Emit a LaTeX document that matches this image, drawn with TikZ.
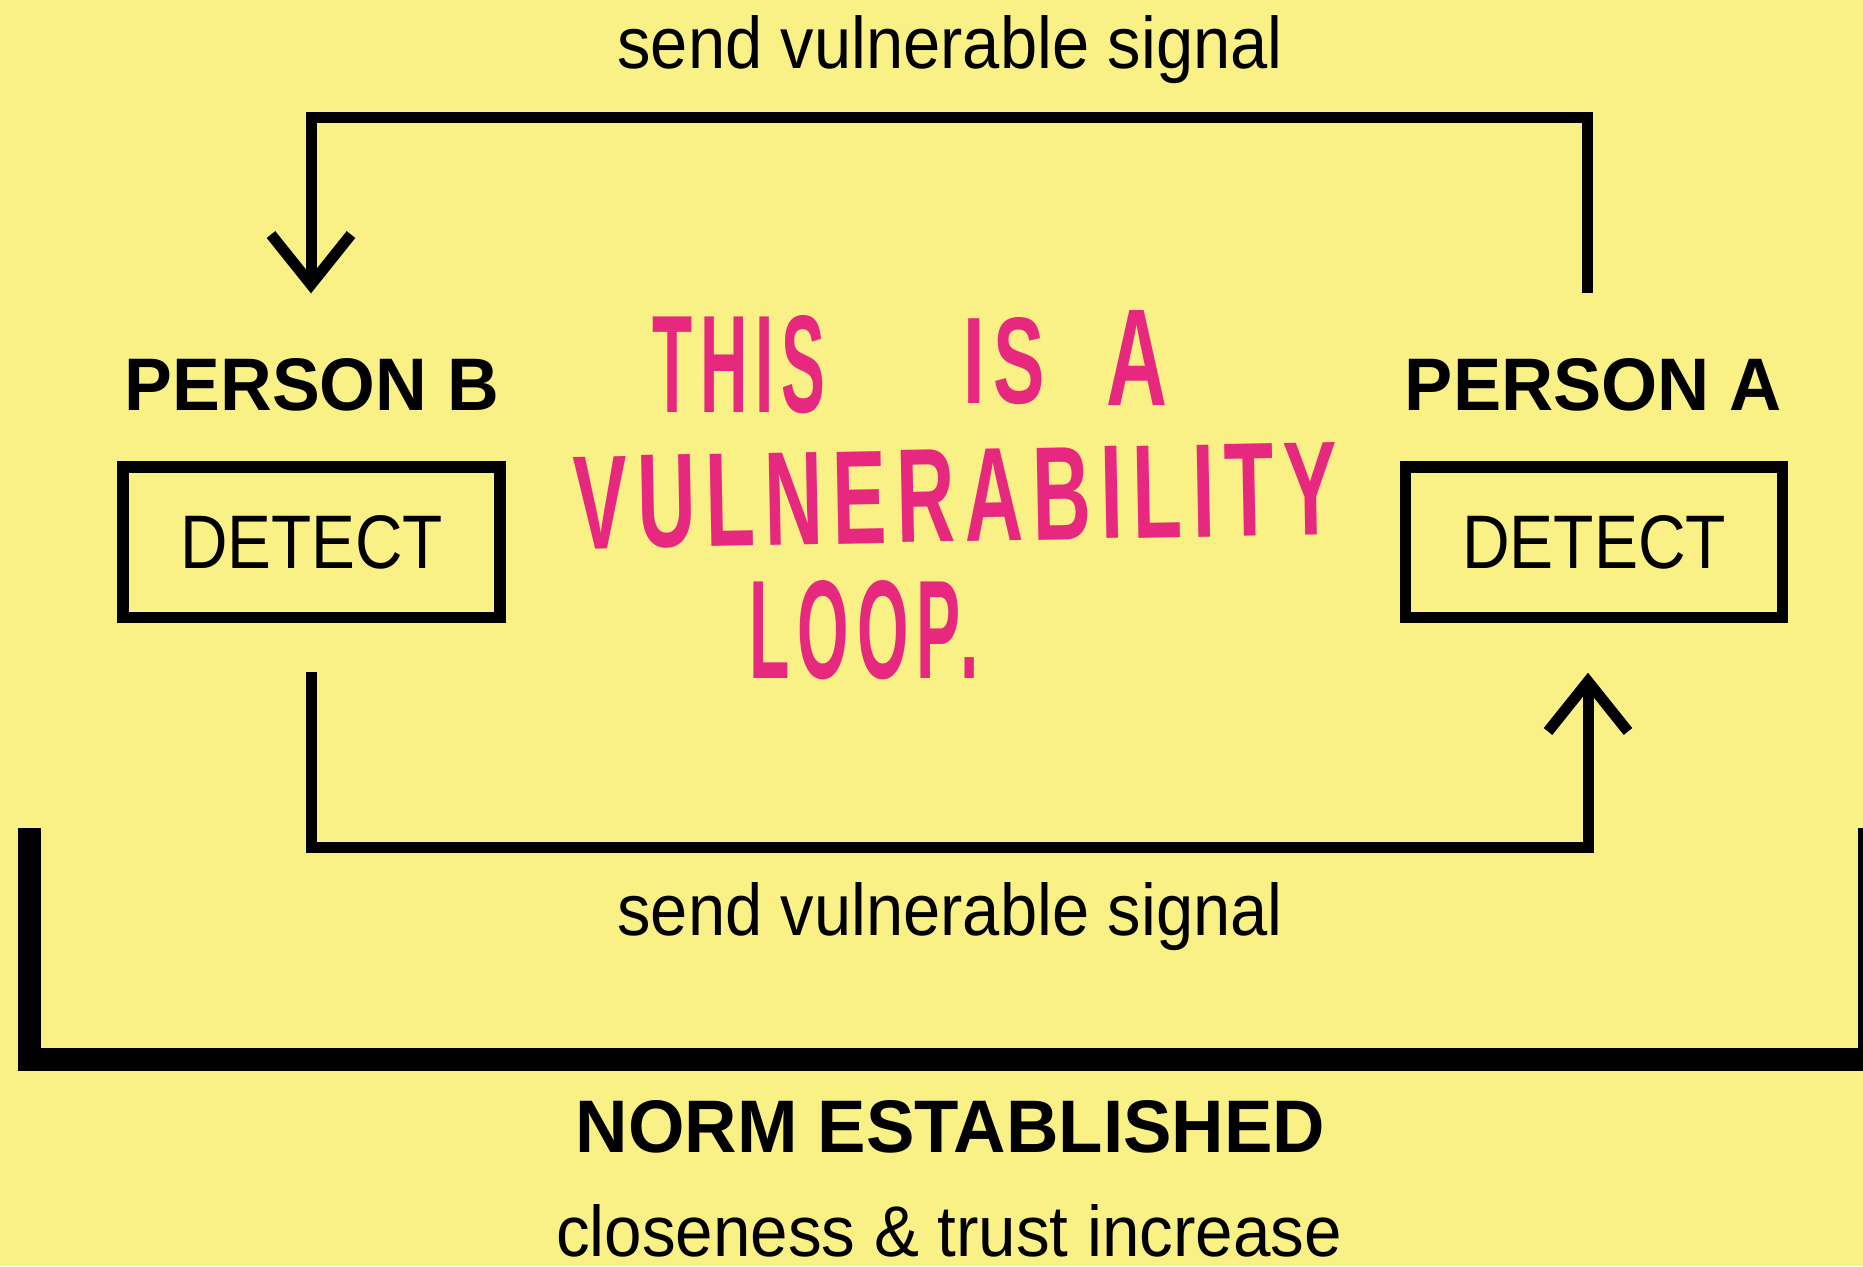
\documentclass[tikz,border=0pt]{standalone}
\usepackage{fontspec}
\setmainfont{Liberation Sans}
\newfontfamily\handfont[LetterSpace=12]{Liberation Sans}
\usepackage{graphicx}
\usetikzlibrary{calc}
\definecolor{bg}{RGB}{249,240,134}
\definecolor{hotpink}{RGB}{231,40,127}
\newcommand\fitto[3]{\resizebox{#1}{#2}{#3}}
\begin{document}
\begin{tikzpicture}[x=0.5pt,y=-0.5pt,
  conn/.style={draw=black,line width=5.5pt,line join=miter,line cap=butt},
  chev/.style={draw=black,line width=5.5pt,line join=miter,line cap=butt},
  bracket/.style={draw=black,line width=11.5pt,line join=miter,line cap=butt},
  detbox/.style={draw=black,line width=5.75pt,inner sep=0pt,minimum width=188.5pt,minimum height=75.25pt},
  lbl/.style={inner sep=0pt,anchor=base,text=black},
  hand/.style={inner sep=0pt,anchor=base west,text=hotpink,font=\handfont\bfseries}]
\fill[bg] (0,0) rectangle (1863,1266);
\useasboundingbox (0,0) rectangle (1863,1266);

% labels
\node[lbl] (topSig) at (950,68) {\fitto{332.5pt}{26.5pt}{send vulnerable signal}};
\node[lbl] (botSig) at (950,935) {\fitto{332.5pt}{26.5pt}{send vulnerable signal}};
\node[lbl,font=\bfseries] (personB) at (312,410) {\fitto{187pt}{26pt}{PERSON B}};
\node[lbl,font=\bfseries] (personA) at (1593.5,410) {\fitto{188.5pt}{26pt}{PERSON A}};
\node[lbl,font=\bfseries] (norm) at (950.5,1152) {\fitto{374.5pt}{26pt}{NORM ESTABLISHED}};
\node[lbl] (close) at (949,1256) {\fitto{393pt}{26pt}{closeness \& trust increase}};

% boxes
\node[detbox] (boxB) at (311.5,542) {\fitto{131.5pt}{26.5pt}{DETECT}};
\node[detbox] (boxA) at (1594,542) {\fitto{132pt}{26.5pt}{DETECT}};

% handwritten title
\node[hand] (this) at (652,412) {\fitto{86.5pt}{48.5pt}{THIS}};
\node[hand] (is) at (963,403) {\fitto{41pt}{43pt}{IS}};
\node[hand] (a) at (1106,405) {\fitto{30.5pt}{47.5pt}{A}};
\node[hand,rotate=1.1] (vuln) at (574,549) {\fitto{382pt}{46pt}{VULNERABILITY}};
\node[hand] (loop) at (749,678) {\fitto{114.5pt}{49pt}{LOOP.}};

% top connector: person A -> person B
\coordinate (aOut) at (1587.5,293);
\coordinate (topR) at (1587.5,117.5);
\coordinate (bIn) at (311,284.5);
\draw[conn] (aOut) -- (topR) -| (bIn);
\draw[chev] ($(bIn)+(-40,-50)$) -- (bIn) -- ($(bIn)+(40,-50)$);

% bottom connector: person B -> person A
\coordinate (bOut) at (311,672);
\coordinate (botL) at (311,847.5);
\coordinate (aIn) at (1588,681.5);
\draw[conn] (bOut) -- (botL) -| (aIn);
\draw[chev] ($(aIn)+(-40,50)$) -- (aIn) -- ($(aIn)+(40,50)$);

% norm bracket
\coordinate (brL) at (29.5,828);
\coordinate (brR) at (1869.5,828);
\draw[bracket] (brL) -- ++(0,231.5) -| (brR);
\end{tikzpicture}
\end{document}
